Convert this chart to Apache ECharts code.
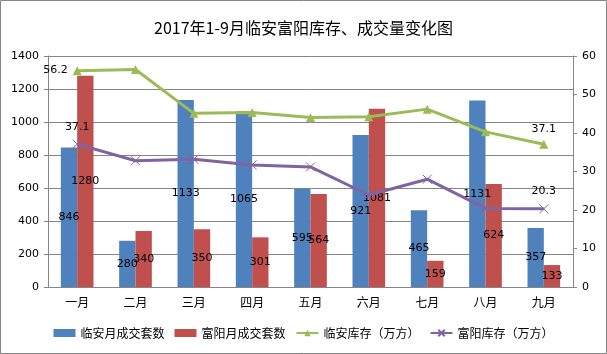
<!DOCTYPE html>
<html>
<head>
<meta charset="utf-8">
<script src="https://cdn.jsdelivr.net/npm/echarts@6/dist/echarts.min.js"></script>
<style>
  html, body { margin: 0; padding: 0; background: #fff; }
  .demo { width: 607px; height: 354px; }
</style>
</head>
<body>
<div class="demo"></div>
<script>
const months = ['一月', '二月', '三月', '四月', '五月', '六月', '七月', '八月', '九月']
const linanDeals = [846, 280, 1133, 1065, 595, 921, 465, 1131, 357]
const fuyangDeals = [1280, 340, 350, 301, 564, 1081, 159, 624, 133]
const linanStock = [56.2, 56.5, 45.1, 45.3, 44.0, 44.2, 46.2, 40.3, 37.1]
const fuyangStock = [37.1, 32.8, 33.2, 31.7, 31.2, 23.9, 28.0, 20.4, 20.3]

const cjk = '"Noto Sans CJK SC", sans-serif'
const num = '"DejaVu Sans", sans-serif'

// only the first and last point of each line carry a label
const endLabels = (arr, firstPos) => arr.map((v, i) => {
  let show = i === 0 || i === arr.length - 1
  let item = { value: v, label: { show: show } }
  if (i === 0 && firstPos) item.label.position = firstPos
  return item
})

let myChart = echarts.init(document.querySelector('.demo'))

let option = {
  animation: false,
  title: {
    text: '2017年1-9月临安富阳库存、成交量变化图',
    left: 'center',
    top: 15,
    textStyle: { fontFamily: cjk, fontSize: 16, fontWeight: 'normal', color: '#000' }
  },
  graphic: [{
    type: 'rect',
    shape: { x: 0.5, y: 0.5, width: 606, height: 353 },
    style: { fill: 'none', stroke: '#868686', lineWidth: 1 },
    silent: true
  }],
  legend: {
    bottom: 10,
    left: 'center',
    itemGap: 10,
    itemWidth: 22,
    itemHeight: 8,
    textStyle: { fontFamily: cjk, fontSize: 12, color: '#000' },
    data: [
      { name: '临安月成交套数', icon: 'rect' },
      { name: '富阳月成交套数', icon: 'rect' },
      { name: '临安库存（万方）' },
      { name: '富阳库存（万方）' }
    ]
  },
  grid: { left: 48, right: 34, top: 56, bottom: 67 },
  xAxis: {
    type: 'category',
    data: months,
    axisLine: { lineStyle: { color: '#868686' } },
    axisTick: { show: false },
    axisLabel: { fontFamily: cjk, fontSize: 12, color: '#000', margin: 9 }
  },
  yAxis: [
    {
      type: 'value',
      min: 0,
      max: 1400,
      interval: 200,
      axisLine: { show: true, lineStyle: { color: '#868686' } },
      axisTick: { show: true, length: 4, lineStyle: { color: '#868686' } },
      axisLabel: { fontFamily: num, fontSize: 11, color: '#000', margin: 9, formatter: (v) => String(v) },
      splitLine: { lineStyle: { color: '#868686' } }
    },
    {
      type: 'value',
      min: 0,
      max: 60,
      interval: 10,
      axisLine: { show: true, lineStyle: { color: '#868686' } },
      axisTick: { show: true, length: 4, lineStyle: { color: '#868686' } },
      axisLabel: { fontFamily: num, fontSize: 11, color: '#000', margin: 9, formatter: (v) => String(v) },
      splitLine: { show: false }
    }
  ],
  series: [
    {
      name: '临安月成交套数',
      type: 'bar',
      data: linanDeals,
      barGap: '0%',
      barCategoryGap: '44%',
      itemStyle: { color: '#4F81BD' },
      label: { show: true, position: 'inside', fontFamily: num, fontSize: 11, color: '#000' }
    },
    {
      name: '富阳月成交套数',
      type: 'bar',
      data: fuyangDeals,
      itemStyle: { color: '#C0504D' },
      label: { show: true, position: 'inside', fontFamily: num, fontSize: 11, color: '#000' }
    },
    {
      name: '临安库存（万方）',
      type: 'line',
      yAxisIndex: 1,
      data: endLabels(linanStock, 'left'),
      symbol: 'triangle',
      symbolSize: 9,
      lineStyle: { color: '#9BBB59', width: 3 },
      itemStyle: { color: '#9BBB59' },
      label: { position: 'top', fontFamily: num, fontSize: 11, color: '#000' }
    },
    {
      name: '富阳库存（万方）',
      type: 'line',
      yAxisIndex: 1,
      data: endLabels(fuyangStock),
      symbol: 'path://M0,0L10,10M10,0L0,10',
      symbolSize: 9,
      lineStyle: { color: '#8064A2', width: 3 },
      itemStyle: { color: 'none', borderColor: '#8064A2', borderWidth: 1 },
      label: { position: 'top', fontFamily: num, fontSize: 11, color: '#000' }
    }
  ]
}

myChart.setOption(option)
</script>
</body>
</html>
